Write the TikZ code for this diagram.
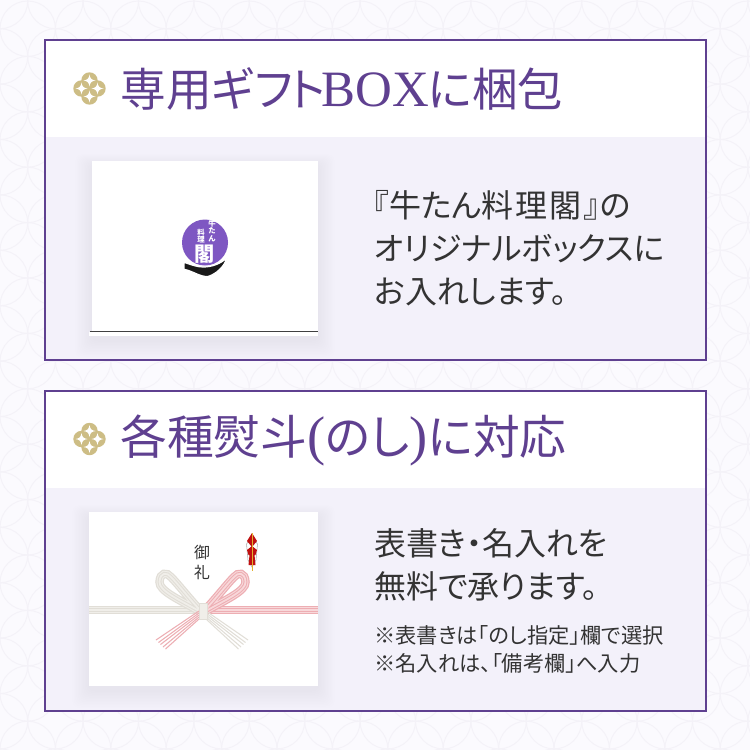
\documentclass[tikz,border=0pt]{standalone}
\usepackage{fontspec}
\setmainfont{Noto Sans CJK JP}[RawFeature=+palt]
\newfontfamily\titlelatin{Liberation Serif}
\usetikzlibrary{positioning}
\definecolor{pagebg}{HTML}{FBFAFE}
\definecolor{seigaiha}{HTML}{F4F2F8}
\definecolor{panelbg}{HTML}{F3F1FA}
\definecolor{framecol}{HTML}{5F4090}
\definecolor{goldcol}{HTML}{CDBD85}
\definecolor{bodytext}{HTML}{333333}
\definecolor{logopurple}{HTML}{7E57C2}
\definecolor{greya}{HTML}{E1DED7}
\definecolor{greyb}{HTML}{F0EEE9}
\definecolor{pinka}{HTML}{EDAEB3}
\definecolor{pinkb}{HTML}{F8D8DA}
\definecolor{noshired}{HTML}{C01010}
\definecolor{noshigold}{HTML}{E2B02E}
\tikzstyle{frame}=[draw=framecol, line width=1.15pt]
\tikzstyle{titletext}=[anchor=west, text=framecol, font=\fontsize{26}{30}\selectfont, inner sep=0pt]
\tikzstyle{bodyline}=[anchor=west, text=bodytext, font=\fontsize{18.2}{22}\selectfont, inner sep=0pt]
\tikzstyle{noteline}=[anchor=west, text=bodytext, font=\fontsize{12.1}{14}\selectfont, inner sep=0pt]
\tikzstyle{logotext}=[text=white, align=center, inner sep=0pt, font=\fontsize{4.2}{4.2}\selectfont\bfseries]
\tikzstyle{cardtext}=[text=black!80, inner sep=0pt, font=\fontsize{9}{10}\selectfont]
\newcommand{\hanaicon}[2]{%
  \foreach \dx/\dy in {8/0,-8/0,0/8,0/-8}{
    \fill[goldcol] (#1+\dx,#2+\dy) circle (8.2);
  }
  \foreach \dx/\dy in {8/0,-8/0,0/8,0/-8}{
    \fill[white] (#1+\dx+6,#2+\dy) .. controls (#1+\dx+2,#2+\dy+.6) and (#1+\dx+.6,#2+\dy+2) .. (#1+\dx,#2+\dy+6)
      .. controls (#1+\dx-.6,#2+\dy+2) and (#1+\dx-2,#2+\dy+.6) .. (#1+\dx-6,#2+\dy)
      .. controls (#1+\dx-2,#2+\dy-.6) and (#1+\dx-.6,#2+\dy-2) .. (#1+\dx,#2+\dy-6)
      .. controls (#1+\dx+.6,#2+\dy-2) and (#1+\dx+2,#2+\dy-.6) .. cycle;
  }}
\newcommand{\softshadow}[4]{%
  \foreach \s in {1,...,12}{
    \fill[framecol, opacity=.005, rounded corners=4] (#1-\s*1.4,#2-\s*.9+4) rectangle (#3+\s*1.4,#4+\s*1.5+4);
  }}
\newcommand{\strands}[3]{%
  \foreach \w/\c in {4.8/#1, 3.4/#2, 2.2/#1, 1/#2}{
    \draw[line width=\w pt, color=\c] #3;
  }}
\begin{document}
\begin{tikzpicture}[x=0.02cm, y=-0.02cm]
  \useasboundingbox (0,0) rectangle (750,750);
  % Background
  \fill[pagebg] (0,0) rectangle (750,750);
  \begin{scope}
    \clip (0,0) rectangle (750,750);
    \foreach \k in {0,...,28}{
      \foreach \m in {0,...,28}{
        \pgfmathparse{int(mod(\k+\m,2))}
        \ifnum\pgfmathresult=0
          \draw[seigaiha, line width=.55pt] (27.7*\k,27.7*\m+1) circle (27.7);
        \fi
      }
    }
  \end{scope}

  % First panel
  \fill[white] (45,40) rectangle (706,137);
  \fill[panelbg] (45,137) rectangle (706,360);
  \draw[frame] (45,40) rectangle (706,360);
  \hanaicon{89.5}{88.5}
  \node[titletext] (titlebox) at (120,89) {専用ギフ\kern-1.5ptト\kern-1.8pt{\titlelatin\fontsize{29}{30}\selectfont BOX}\kern-.8ptに梱包};
  \node[bodyline] (boxa) at (373,205) {『牛たん料\kern1pt理\kern1pt閣\kern1.6pt』の};
  \node[bodyline] (boxb) at (374,249) {オリジナルボックスに};
  \node[bodyline] (boxc) at (374,292) {お入れします。};

  % Gift box
  \softshadow{92}{161}{318}{336}
  \fill[white] (92,161) rectangle (318,332);
  \fill[white] (89,332) rectangle (318,336);
  \draw[black!75, line width=.5pt] (90,331.8) -- (318,331.8);
  \fill[logopurple] (205,242.5) circle (23);
  \node[logotext] (logoa) at (212,231) {牛\\た\\ん};
  \node[logotext] (logob) at (201,236) {料\\理};
  \node[logotext, font=\fontsize{11.5}{12}\selectfont\bfseries] (logoc) at (205,254) {閣};
  \fill[black!90, draw=white, line width=.7pt] (184,262.3) .. controls (192,265) and (197,267) .. (203,267) .. controls (212,267) and (220,264) .. (227,258)
    .. controls (224,267) and (216,274) .. (208,276.5) .. controls (200,277) and (193,271) .. (184,269.3) -- cycle;

  % Second panel
  \fill[white] (45,391) rectangle (706,488);
  \fill[panelbg] (45,488) rectangle (706,711);
  \draw[frame] (45,391) rectangle (706,711);
  \hanaicon{89.5}{439}
  \node[titletext, font=\fontsize{26.6}{30}\selectfont] (titlenoshi) at (120,440) {各種熨斗{\titlelatin\fontsize{31}{31}\selectfont(}のし{\titlelatin\fontsize{31}{31}\selectfont)}に対応};
  \node[bodyline] (noshia) at (374,543) {表書き・名入れを};
  \node[bodyline] (noshib) at (374,586) {無料で承ります。};
  \node[noteline] (notea) at (374,635) {※表書きは「のし指定」欄で選択};
  \node[noteline] (noteb) at (374,663) {※名入れは、「備考欄」へ入力};

  % Noshi card
  \softshadow{89}{512}{318}{686}
  \fill[white] (89,512) rectangle (318,686);
  \node[cardtext] (goa) at (202,552.5) {御};
  \node[cardtext] (gob) at (202,572) {礼};
  \strands{greya}{greyb}{(89,610) -- (200,610)}
  \strands{pinka}{pinkb}{(205,610) -- (318,610)}
  \strands{greya}{greyb}{(199,609) .. controls (188,597) and (177,583) .. (171,577) .. controls (167,572) and (160,572) .. (159.5,582) .. controls (159,591) and (180,600) .. (199,611)}
  \strands{pinka}{pinkb}{(206,609) .. controls (217,597) and (228,583) .. (234,577) .. controls (238,572) and (245,572) .. (245.5,582) .. controls (246,591) and (225,600) .. (206,611)}
  \foreach \ex/\ey/\sy in {156/640/611,158.5/642.5/613,160.5/644.5/615,163/647/617,165.5/649/619}{
    \draw[pinka, line width=.6pt] (199,\sy) -- (\ex,\ey);
  }
  \foreach \ex/\ey/\sy in {248/640/611,245.5/642.5/613,243.5/644.5/615,241/647/617,238.5/649/619}{
    \draw[greya, line width=.6pt] (206,\sy) -- (\ex,\ey);
  }
  \fill[greyb, draw=greya, line width=.4pt] (199,603) rectangle (207,619);

  % Noshi ornament
  \draw[black!35, fill=white, line width=.3pt] (252,537) -- (246.5,544) -- (248,560) -- (252,567) -- (256,560) -- (257.5,544) -- cycle;
  \fill[noshired] (252,533) -- (257,541) -- (252,547) -- (247,541) -- cycle;
  \fill[noshired] (252,546) -- (257,550) -- (255.5,555) -- (248.5,555) -- (247,550) -- cycle;
  \fill[noshired] (249.5,555) -- (254.5,555) -- (255.5,565) -- (248.5,565) -- cycle;
  \draw[noshigold, line width=.8pt] (252.3,533) -- (252.3,571);
\end{tikzpicture}
\end{document}
